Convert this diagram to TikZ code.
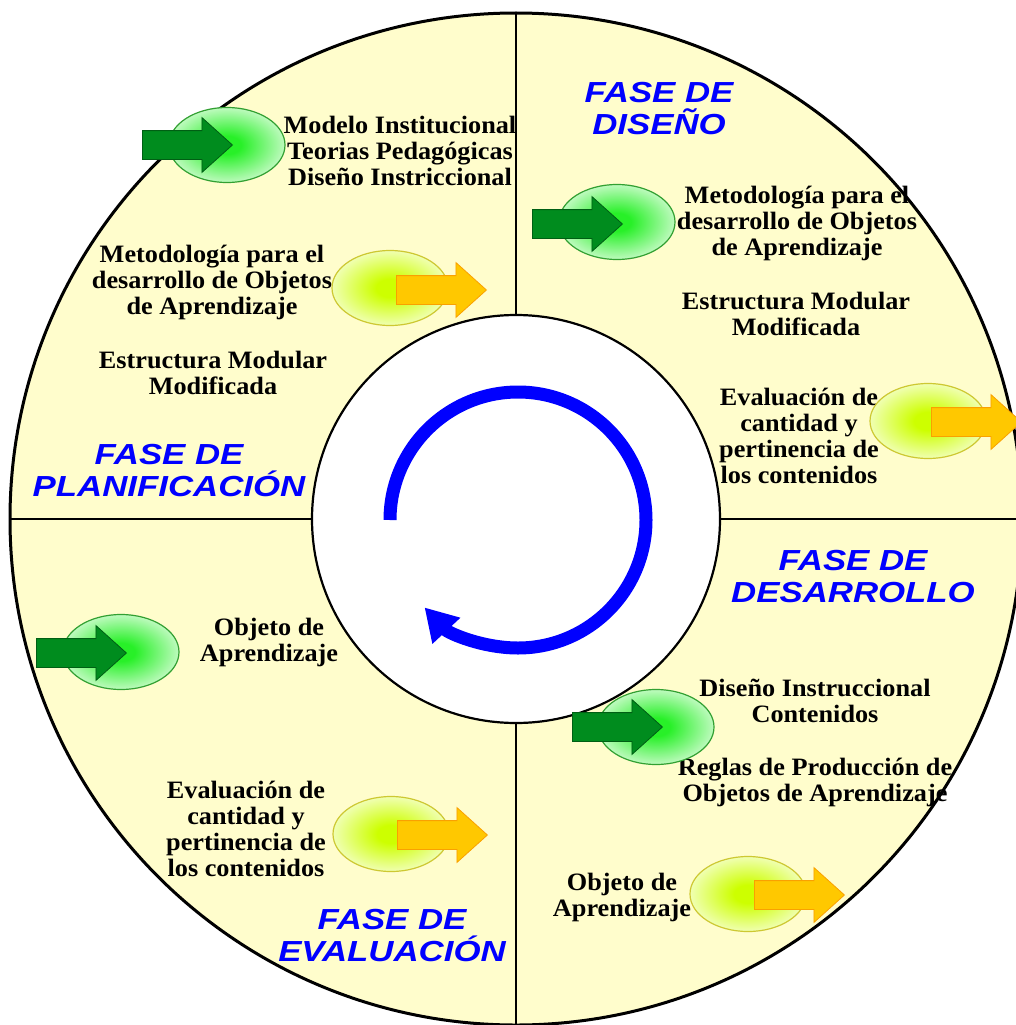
\documentclass[tikz,border=0pt]{standalone}
\usepackage{fontspec}
\setmainfont{Liberation Serif}[FakeStretch=1.05]
\newfontfamily\phasefont{Liberation Sans}[FakeStretch=1.2]
\usetikzlibrary{shapes.geometric,shapes.arrows,arrows.meta}
\definecolor{ringfill}{RGB}{255,253,204}
\definecolor{arrowgreen}{RGB}{0,140,30}
\definecolor{arrowgreenline}{RGB}{0,95,20}
\definecolor{arrowyellow}{RGB}{255,200,0}
\definecolor{arrowyellowline}{RGB}{250,160,0}
\definecolor{glowgreen}{RGB}{40,240,40}
\definecolor{glowyellow}{RGB}{205,255,0}
\definecolor{ringgreen}{RGB}{50,160,50}
\definecolor{ringyellow}{RGB}{205,200,50}
\definecolor{phaseblue}{RGB}{0,0,255}
\pgfdeclareradialshading{greenglow}{\pgfpoint{0bp}{0bp}}{color(0bp)=(glowgreen); color(6bp)=(glowgreen); color(30bp)=(glowgreen!12!white); color(50bp)=(white)}
\pgfdeclareradialshading{yellowglow}{\pgfpoint{0bp}{0bp}}{color(0bp)=(glowyellow); color(6bp)=(glowyellow); color(30bp)=(glowyellow!12!white); color(50bp)=(white)}
\tikzset{
  txt/.style={align=center, inner sep=0pt, font=\bfseries\fontsize{25}{26}\selectfont},
  phase/.style={align=center, inner sep=0pt, text=phaseblue, font=\phasefont\bfseries\itshape\fontsize{29}{32}\selectfont},
  greenring/.style={ellipse, draw=ringgreen, line width=1.2pt, shading=greenglow, minimum width=116pt, minimum height=75pt},
  yellowring/.style={ellipse, draw=ringyellow, line width=1.2pt, shading=yellowglow, minimum width=116pt, minimum height=75pt},
  goin/.style={single arrow, draw=arrowgreenline, fill=arrowgreen, line width=0.8pt, inner sep=0pt, text height=14pt, text depth=14pt, minimum height=90pt, single arrow head extend=13pt, single arrow tip angle=84, anchor=tip},
  goout/.style={goin, draw=arrowyellowline, fill=arrowyellow},
  divider/.style={line width=2.5pt},
}
\begin{document}
\begin{tikzpicture}[x=1pt, y=-1pt]
\useasboundingbox (0,0) rectangle (1015,1025);
\coordinate (c) at (516,519);
\coordinate (top) at (516,13);
\coordinate (bottom) at (516,1025);
\coordinate (left) at (10,519);
\coordinate (right) at (1022,519);
\fill[ringfill] (c) circle[radius=506];
\draw[divider] (top) -- (bottom);
\draw[divider] (left) -- (right);
\draw[fill=white, line width=2.2pt] (c) circle[radius=204];
\node[txt] (modelo) at (400,151) {Modelo Institucional\\Teorias Pedagógicas\\Diseño Instriccional};
\node[txt] (metodoA) at (212,282) {Metodología para el\\desarrollo de Objetos\\de Aprendizaje};
\node[txt] (estructA) at (213,373) {Estructura Modular\\Modificada};
\node[phase] (planif) at (169,471) {FASE DE\\PLANIFICACIÓN};
\node[phase] (diseno) at (659,109) {FASE DE\\DISEÑO};
\node[txt] (metodoB) at (797,223) {Metodología para el\\desarrollo de Objetos\\de Aprendizaje};
\node[txt] (estructB) at (796,314) {Estructura Modular\\Modificada};
\node[txt] (evalB) at (799,436) {Evaluación de\\cantidad y\\pertinencia de\\los contenidos};
\node[phase] (desarr) at (853,577) {FASE DE\\DESARROLLO};
\node[txt] (instruc) at (815,701) {Diseño Instruccional\\Contenidos};
\node[txt] (reglas) at (815,782) {Reglas de Producción de\\Objetos de Aprendizaje};
\node[txt] (objetoC) at (622,897) {Objeto de\\Aprendizaje};
\node[txt] (objetoD) at (269,642) {Objeto de\\Aprendizaje};
\node[txt] (evalD) at (246,829) {Evaluación de\\cantidad y\\pertinencia de\\los contenidos};
\node[phase] (evaluac) at (392,936) {FASE DE\\EVALUACIÓN};
\draw[line width=3pt] (c) circle[radius=506];
\node[greenring] (ringA) at (227,145) {};
\node[yellowring] (ringB) at (390,288) {};
\node[greenring] (ringC) at (617,222) {};
\node[yellowring] (ringD) at (928,421) {};
\node[greenring] (ringE) at (656,727) {};
\node[yellowring] (ringF) at (748,894) {};
\node[greenring] (ringG) at (121,652) {};
\node[yellowring] (ringH) at (391,834) {};
\node[goin] (inA) at (233,145) {};
\node[goout] (outB) at (487,290) {};
\node[goin] (inC) at (623,224) {};
\node[goout] (outD) at (1022,422) {};
\node[goin] (inE) at (663,727) {};
\node[goout] (outF) at (845,895) {};
\node[goin] (inG) at (127,653) {};
\node[goout] (outH) at (488,835) {};
\draw[line width=13pt, blue, -{Triangle[width=36pt,length=32pt]}] ([shift={(180:128)}]518,520) arc[start angle=180, end angle=496.9, radius=128];
\end{tikzpicture}
\end{document}
